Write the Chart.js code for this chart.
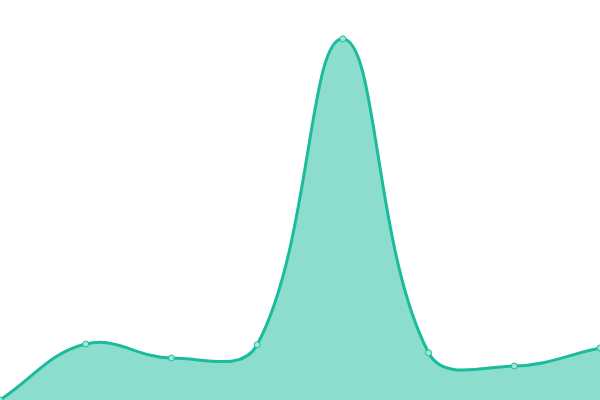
<!DOCTYPE html>
<html>
<head>
<meta charset="utf-8">
<script src="https://cdn.jsdelivr.net/npm/chart.js@4"></script>
<style>
  html, body { margin: 0; padding: 0; background: #fff; }
  #wrap { width: 600px; height: 400px; }
</style>
</head>
<body>
<div id="wrap"><canvas id="area"></canvas></div>
<script>
const labels = ["1", "2", "3", "4", "5", "6", "7", "8"];
const values = [0, 14, 10.5, 13.8, 90.3, 11.8, 8.5, 13];
const yMax = 100;

const areaConfig = {
    type: "line",
    data: {
        labels: labels,
        datasets: [
            {
                data: values,
                fill: true,
                backgroundColor: "rgba(26, 188, 156, 0.5)",
                borderColor: "#1abc9c",
                borderWidth: 3,
                tension: 0.4,
                pointRadius: 3,
                pointBackgroundColor: "#a3e7da",
                pointBorderColor: "#1abc9c",
                pointBorderWidth: 1,
            },
        ],
    },
    options: {
        responsive: true,
        maintainAspectRatio: false,
        animation: false,
        layout: { padding: 0, autoPadding: false },
        plugins: {
            legend: { display: false },
            tooltip: { enabled: false },
        },
        scales: {
            x: { display: false, offset: false },
            y: { display: false, min: 0, max: yMax },
        },
    },
};

new Chart(document.getElementById("area"), areaConfig);
</script>
</body>
</html>
